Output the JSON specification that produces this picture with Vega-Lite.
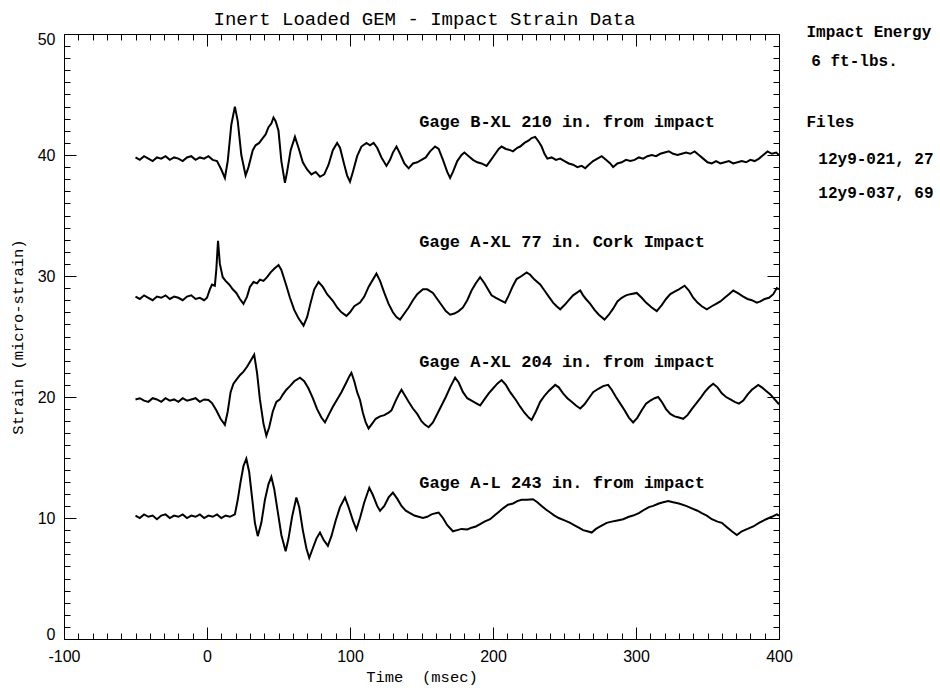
{
"$schema": "https://vega.github.io/schema/vega-lite/v6.json",
"width": 715, "height": 605,
"autosize": {"type": "none"},
"padding": {"left": 64, "top": 34, "right": 161, "bottom": 49},
"background": "white",
"config": {
  "view": {"stroke": "black", "strokeWidth": 1},
  "axis": {"domain": false, "grid": false, "tickColor": "black", "tickWidth": 1, "labelColor": "black", "titleColor": "black", "labelFont": "Liberation Sans", "labelFontSize": 16, "titleFont": "Liberation Mono", "titleFontSize": 15.5, "titleFontWeight": "normal"}
},
"title": {"text": "Inert Loaded GEM - Impact Strain Data", "font": "Liberation Mono", "fontSize": 19, "fontWeight": "normal", "anchor": "middle", "offset": -5, "color": "black", "dx": 3},
"datasets": {
"traces": [
{"s":"B","t":-50,"v":39.8},{"s":"B","t":-47,"v":39.6},{"s":"B","t":-44,"v":39.9},{"s":"B","t":-41,"v":39.7},{"s":"B","t":-38,"v":39.5},{"s":"B","t":-35,"v":39.8},{"s":"B","t":-32,"v":39.7},{"s":"B","t":-29,"v":39.9},{"s":"B","t":-26,"v":39.6},{"s":"B","t":-23,"v":39.8},{"s":"B","t":-20,"v":39.7},{"s":"B","t":-17,"v":39.5},{"s":"B","t":-14,"v":39.8},{"s":"B","t":-11,"v":39.9},{"s":"B","t":-8,"v":39.6},{"s":"B","t":-5,"v":39.8},{"s":"B","t":-2,"v":39.7},{"s":"B","t":1,"v":39.9},{"s":"B","t":4,"v":39.6},{"s":"B","t":7,"v":39.5},{"s":"B","t":10,"v":38.8},{"s":"B","t":12.5,"v":38.1},{"s":"B","t":14.5,"v":39.5},{"s":"B","t":17,"v":42.5},{"s":"B","t":19.5,"v":44.0},{"s":"B","t":21.5,"v":42.8},{"s":"B","t":24,"v":40.0},{"s":"B","t":27,"v":38.3},{"s":"B","t":29,"v":39.0},{"s":"B","t":32,"v":40.4},{"s":"B","t":34,"v":40.8},{"s":"B","t":36.5,"v":41.0},{"s":"B","t":39,"v":41.4},{"s":"B","t":41,"v":41.7},{"s":"B","t":43,"v":42.3},{"s":"B","t":45,"v":42.6},{"s":"B","t":46.5,"v":43.1},{"s":"B","t":48,"v":42.8},{"s":"B","t":50,"v":42.0},{"s":"B","t":52,"v":39.5},{"s":"B","t":54.5,"v":37.7},{"s":"B","t":56,"v":38.6},{"s":"B","t":58.5,"v":40.4},{"s":"B","t":61.5,"v":41.5},{"s":"B","t":64,"v":40.6},{"s":"B","t":67,"v":39.4},{"s":"B","t":70,"v":38.8},{"s":"B","t":73,"v":38.4},{"s":"B","t":76,"v":38.6},{"s":"B","t":79,"v":38.2},{"s":"B","t":82,"v":38.4},{"s":"B","t":85,"v":39.2},{"s":"B","t":88,"v":40.4},{"s":"B","t":91,"v":41.0},{"s":"B","t":93,"v":40.6},{"s":"B","t":96,"v":39.2},{"s":"B","t":98,"v":38.3},{"s":"B","t":100,"v":37.8},{"s":"B","t":102,"v":38.6},{"s":"B","t":105,"v":39.9},{"s":"B","t":108,"v":40.7},{"s":"B","t":111.5,"v":41.0},{"s":"B","t":114,"v":40.8},{"s":"B","t":116.5,"v":41.0},{"s":"B","t":119,"v":40.6},{"s":"B","t":122,"v":39.8},{"s":"B","t":125.5,"v":39.1},{"s":"B","t":128,"v":39.6},{"s":"B","t":130,"v":40.2},{"s":"B","t":132.5,"v":40.7},{"s":"B","t":135,"v":40.1},{"s":"B","t":138,"v":39.3},{"s":"B","t":141,"v":38.9},{"s":"B","t":144,"v":39.3},{"s":"B","t":147,"v":39.4},{"s":"B","t":150,"v":39.6},{"s":"B","t":153,"v":39.8},{"s":"B","t":156,"v":40.3},{"s":"B","t":159.5,"v":40.7},{"s":"B","t":162,"v":40.5},{"s":"B","t":165,"v":39.6},{"s":"B","t":168,"v":38.6},{"s":"B","t":170,"v":38.1},{"s":"B","t":172,"v":38.6},{"s":"B","t":175,"v":39.5},{"s":"B","t":178,"v":40.0},{"s":"B","t":180,"v":40.2},{"s":"B","t":183,"v":39.9},{"s":"B","t":186,"v":39.6},{"s":"B","t":189,"v":39.4},{"s":"B","t":192,"v":39.3},{"s":"B","t":195.5,"v":39.1},{"s":"B","t":198,"v":39.5},{"s":"B","t":201,"v":40.0},{"s":"B","t":204,"v":40.5},{"s":"B","t":206,"v":40.7},{"s":"B","t":209,"v":40.5},{"s":"B","t":212,"v":40.4},{"s":"B","t":214,"v":40.3},{"s":"B","t":217,"v":40.6},{"s":"B","t":219,"v":40.7},{"s":"B","t":222,"v":41.0},{"s":"B","t":225,"v":41.2},{"s":"B","t":227,"v":41.4},{"s":"B","t":229.5,"v":41.5},{"s":"B","t":232,"v":41.1},{"s":"B","t":234,"v":40.7},{"s":"B","t":236,"v":40.1},{"s":"B","t":238,"v":39.7},{"s":"B","t":241,"v":39.8},{"s":"B","t":244,"v":39.6},{"s":"B","t":247,"v":39.7},{"s":"B","t":250,"v":39.5},{"s":"B","t":253,"v":39.3},{"s":"B","t":256,"v":39.2},{"s":"B","t":259,"v":39.0},{"s":"B","t":262,"v":39.1},{"s":"B","t":264.5,"v":38.9},{"s":"B","t":267,"v":39.2},{"s":"B","t":270,"v":39.5},{"s":"B","t":273,"v":39.7},{"s":"B","t":276,"v":39.9},{"s":"B","t":279,"v":39.6},{"s":"B","t":282,"v":39.3},{"s":"B","t":284,"v":39.0},{"s":"B","t":287,"v":39.3},{"s":"B","t":290,"v":39.4},{"s":"B","t":293,"v":39.6},{"s":"B","t":296,"v":39.5},{"s":"B","t":299,"v":39.6},{"s":"B","t":302,"v":39.8},{"s":"B","t":305,"v":39.7},{"s":"B","t":308,"v":39.9},{"s":"B","t":311,"v":40.0},{"s":"B","t":314,"v":39.9},{"s":"B","t":317,"v":40.1},{"s":"B","t":320,"v":40.2},{"s":"B","t":323,"v":40.3},{"s":"B","t":326,"v":40.1},{"s":"B","t":329,"v":40.0},{"s":"B","t":332,"v":40.1},{"s":"B","t":335,"v":40.2},{"s":"B","t":338,"v":40.1},{"s":"B","t":341,"v":40.3},{"s":"B","t":344,"v":40.0},{"s":"B","t":347,"v":39.7},{"s":"B","t":350,"v":39.4},{"s":"B","t":353,"v":39.3},{"s":"B","t":356,"v":39.5},{"s":"B","t":359,"v":39.3},{"s":"B","t":362,"v":39.4},{"s":"B","t":365,"v":39.5},{"s":"B","t":368,"v":39.3},{"s":"B","t":371,"v":39.4},{"s":"B","t":374,"v":39.5},{"s":"B","t":377,"v":39.4},{"s":"B","t":380,"v":39.6},{"s":"B","t":383,"v":39.5},{"s":"B","t":386,"v":39.7},{"s":"B","t":389,"v":40.0},{"s":"B","t":392,"v":40.3},{"s":"B","t":395,"v":40.1},{"s":"B","t":398,"v":40.2},{"s":"B","t":400,"v":40.0},
{"s":"C","t":-50,"v":28.3},{"s":"C","t":-47,"v":28.1},{"s":"C","t":-44,"v":28.4},{"s":"C","t":-41,"v":28.2},{"s":"C","t":-38,"v":28.0},{"s":"C","t":-35,"v":28.3},{"s":"C","t":-32,"v":28.2},{"s":"C","t":-29,"v":28.4},{"s":"C","t":-26,"v":28.1},{"s":"C","t":-23,"v":28.3},{"s":"C","t":-20,"v":28.2},{"s":"C","t":-17,"v":28.0},{"s":"C","t":-14,"v":28.3},{"s":"C","t":-11,"v":28.4},{"s":"C","t":-8,"v":28.1},{"s":"C","t":-5,"v":28.2},{"s":"C","t":-2,"v":28.0},{"s":"C","t":0,"v":28.2},{"s":"C","t":2,"v":28.9},{"s":"C","t":3.5,"v":29.3},{"s":"C","t":5.5,"v":29.2},{"s":"C","t":6.5,"v":30.5},{"s":"C","t":7.7,"v":32.9},{"s":"C","t":9,"v":31.0},{"s":"C","t":11,"v":29.9},{"s":"C","t":13,"v":29.6},{"s":"C","t":15.5,"v":29.3},{"s":"C","t":18,"v":28.9},{"s":"C","t":20.5,"v":28.6},{"s":"C","t":23,"v":28.1},{"s":"C","t":25.5,"v":27.7},{"s":"C","t":28,"v":28.3},{"s":"C","t":30,"v":29.1},{"s":"C","t":32.5,"v":29.5},{"s":"C","t":35,"v":29.4},{"s":"C","t":37,"v":29.7},{"s":"C","t":39.5,"v":29.6},{"s":"C","t":42,"v":29.9},{"s":"C","t":44.5,"v":30.3},{"s":"C","t":47,"v":30.6},{"s":"C","t":50,"v":30.9},{"s":"C","t":52,"v":30.5},{"s":"C","t":55.5,"v":29.2},{"s":"C","t":58,"v":28.2},{"s":"C","t":61,"v":27.2},{"s":"C","t":64,"v":26.5},{"s":"C","t":67.5,"v":25.9},{"s":"C","t":70,"v":26.6},{"s":"C","t":72.5,"v":27.8},{"s":"C","t":75,"v":28.9},{"s":"C","t":78,"v":29.5},{"s":"C","t":81,"v":29.1},{"s":"C","t":84,"v":28.5},{"s":"C","t":88,"v":27.95},{"s":"C","t":91,"v":27.4},{"s":"C","t":94,"v":27.0},{"s":"C","t":97.5,"v":26.7},{"s":"C","t":100,"v":27.0},{"s":"C","t":103,"v":27.5},{"s":"C","t":107,"v":27.8},{"s":"C","t":110,"v":28.3},{"s":"C","t":113,"v":29.1},{"s":"C","t":116,"v":29.7},{"s":"C","t":118.5,"v":30.2},{"s":"C","t":121,"v":29.6},{"s":"C","t":124,"v":28.6},{"s":"C","t":127,"v":27.7},{"s":"C","t":130,"v":27.0},{"s":"C","t":132.5,"v":26.6},{"s":"C","t":135,"v":26.4},{"s":"C","t":138,"v":26.9},{"s":"C","t":141,"v":27.4},{"s":"C","t":144,"v":28.0},{"s":"C","t":147,"v":28.5},{"s":"C","t":151,"v":28.9},{"s":"C","t":154,"v":28.9},{"s":"C","t":158,"v":28.6},{"s":"C","t":161,"v":28.1},{"s":"C","t":164,"v":27.6},{"s":"C","t":167,"v":27.1},{"s":"C","t":170,"v":26.8},{"s":"C","t":173,"v":26.9},{"s":"C","t":176,"v":27.1},{"s":"C","t":179,"v":27.4},{"s":"C","t":182,"v":28.0},{"s":"C","t":185,"v":28.8},{"s":"C","t":188,"v":29.4},{"s":"C","t":191,"v":29.9},{"s":"C","t":194,"v":29.4},{"s":"C","t":197,"v":28.8},{"s":"C","t":199,"v":28.4},{"s":"C","t":202,"v":28.2},{"s":"C","t":205,"v":28.0},{"s":"C","t":208.5,"v":27.8},{"s":"C","t":211,"v":28.4},{"s":"C","t":214,"v":29.2},{"s":"C","t":216.5,"v":29.75},{"s":"C","t":220,"v":30.0},{"s":"C","t":223.5,"v":30.3},{"s":"C","t":226,"v":30.1},{"s":"C","t":229,"v":29.7},{"s":"C","t":233,"v":29.3},{"s":"C","t":236,"v":28.8},{"s":"C","t":239,"v":28.3},{"s":"C","t":242,"v":27.8},{"s":"C","t":244.5,"v":27.5},{"s":"C","t":247,"v":27.25},{"s":"C","t":250,"v":27.6},{"s":"C","t":253,"v":28.0},{"s":"C","t":256,"v":28.4},{"s":"C","t":258.5,"v":28.6},{"s":"C","t":261,"v":28.8},{"s":"C","t":263,"v":28.4},{"s":"C","t":265,"v":28.1},{"s":"C","t":268,"v":27.7},{"s":"C","t":271,"v":27.2},{"s":"C","t":274,"v":26.8},{"s":"C","t":278,"v":26.4},{"s":"C","t":281,"v":26.8},{"s":"C","t":284,"v":27.3},{"s":"C","t":287,"v":27.9},{"s":"C","t":290,"v":28.2},{"s":"C","t":293,"v":28.4},{"s":"C","t":296,"v":28.5},{"s":"C","t":300.5,"v":28.6},{"s":"C","t":304,"v":28.2},{"s":"C","t":307,"v":27.8},{"s":"C","t":311,"v":27.4},{"s":"C","t":314.5,"v":27.1},{"s":"C","t":318,"v":27.6},{"s":"C","t":321,"v":28.1},{"s":"C","t":324,"v":28.5},{"s":"C","t":327,"v":28.7},{"s":"C","t":330,"v":28.9},{"s":"C","t":334,"v":29.2},{"s":"C","t":337,"v":28.8},{"s":"C","t":340,"v":28.2},{"s":"C","t":343,"v":27.8},{"s":"C","t":346,"v":27.5},{"s":"C","t":349.5,"v":27.25},{"s":"C","t":353,"v":27.5},{"s":"C","t":356,"v":27.7},{"s":"C","t":359,"v":27.9},{"s":"C","t":362,"v":28.2},{"s":"C","t":365,"v":28.5},{"s":"C","t":368,"v":28.8},{"s":"C","t":371,"v":28.6},{"s":"C","t":375,"v":28.3},{"s":"C","t":378,"v":28.1},{"s":"C","t":381,"v":28.0},{"s":"C","t":384.5,"v":27.8},{"s":"C","t":387,"v":27.9},{"s":"C","t":390,"v":28.1},{"s":"C","t":393,"v":28.2},{"s":"C","t":396,"v":28.5},{"s":"C","t":398.5,"v":29.0},{"s":"C","t":400,"v":28.9},
{"s":"X","t":-50,"v":19.8},{"s":"X","t":-47,"v":19.9},{"s":"X","t":-44,"v":19.7},{"s":"X","t":-41,"v":19.6},{"s":"X","t":-38,"v":19.9},{"s":"X","t":-35,"v":19.8},{"s":"X","t":-32,"v":19.6},{"s":"X","t":-29,"v":19.9},{"s":"X","t":-26,"v":19.7},{"s":"X","t":-23,"v":19.8},{"s":"X","t":-20,"v":19.6},{"s":"X","t":-17,"v":19.9},{"s":"X","t":-14,"v":19.7},{"s":"X","t":-11,"v":19.8},{"s":"X","t":-8,"v":19.9},{"s":"X","t":-5,"v":19.6},{"s":"X","t":-2,"v":19.8},{"s":"X","t":1,"v":19.75},{"s":"X","t":3.5,"v":19.5},{"s":"X","t":6.5,"v":18.9},{"s":"X","t":9.5,"v":18.2},{"s":"X","t":12.5,"v":17.7},{"s":"X","t":14.5,"v":18.8},{"s":"X","t":16.5,"v":20.4},{"s":"X","t":18.5,"v":21.1},{"s":"X","t":21,"v":21.5},{"s":"X","t":23,"v":21.8},{"s":"X","t":25.5,"v":22.1},{"s":"X","t":28,"v":22.5},{"s":"X","t":30.5,"v":23.0},{"s":"X","t":33,"v":23.5},{"s":"X","t":35,"v":22.0},{"s":"X","t":37,"v":19.8},{"s":"X","t":39.5,"v":17.8},{"s":"X","t":41.5,"v":16.8},{"s":"X","t":43.5,"v":17.5},{"s":"X","t":46,"v":18.8},{"s":"X","t":48.5,"v":19.6},{"s":"X","t":51,"v":19.8},{"s":"X","t":53,"v":20.2},{"s":"X","t":55.5,"v":20.6},{"s":"X","t":58,"v":20.9},{"s":"X","t":61,"v":21.3},{"s":"X","t":65,"v":21.6},{"s":"X","t":68,"v":21.3},{"s":"X","t":71,"v":20.7},{"s":"X","t":74,"v":19.9},{"s":"X","t":77,"v":19.0},{"s":"X","t":80,"v":18.3},{"s":"X","t":82.5,"v":17.9},{"s":"X","t":85,"v":18.5},{"s":"X","t":88,"v":19.2},{"s":"X","t":91,"v":19.8},{"s":"X","t":94,"v":20.4},{"s":"X","t":97,"v":21.1},{"s":"X","t":99.5,"v":21.7},{"s":"X","t":101,"v":22.0},{"s":"X","t":103,"v":21.3},{"s":"X","t":105,"v":20.4},{"s":"X","t":107,"v":19.75},{"s":"X","t":109,"v":18.7},{"s":"X","t":111,"v":17.9},{"s":"X","t":113,"v":17.4},{"s":"X","t":115.5,"v":17.8},{"s":"X","t":118,"v":18.2},{"s":"X","t":121,"v":18.4},{"s":"X","t":124,"v":18.5},{"s":"X","t":127,"v":18.7},{"s":"X","t":129,"v":18.9},{"s":"X","t":132,"v":19.7},{"s":"X","t":134.5,"v":20.3},{"s":"X","t":136,"v":20.6},{"s":"X","t":138.5,"v":20.1},{"s":"X","t":141,"v":19.6},{"s":"X","t":144,"v":19.05},{"s":"X","t":147,"v":18.6},{"s":"X","t":150,"v":18.0},{"s":"X","t":152.5,"v":17.7},{"s":"X","t":155,"v":17.5},{"s":"X","t":158,"v":17.9},{"s":"X","t":161,"v":18.6},{"s":"X","t":164,"v":19.3},{"s":"X","t":167,"v":20.0},{"s":"X","t":170,"v":20.8},{"s":"X","t":173.5,"v":21.6},{"s":"X","t":176,"v":21.2},{"s":"X","t":179,"v":20.4},{"s":"X","t":182,"v":19.9},{"s":"X","t":185,"v":19.7},{"s":"X","t":188,"v":19.5},{"s":"X","t":191,"v":19.3},{"s":"X","t":194,"v":19.8},{"s":"X","t":197,"v":20.3},{"s":"X","t":200,"v":20.7},{"s":"X","t":203,"v":21.1},{"s":"X","t":206,"v":21.4},{"s":"X","t":209,"v":21.0},{"s":"X","t":212,"v":20.4},{"s":"X","t":216,"v":19.75},{"s":"X","t":219,"v":19.2},{"s":"X","t":222,"v":18.7},{"s":"X","t":225,"v":18.3},{"s":"X","t":227,"v":18.1},{"s":"X","t":230,"v":18.8},{"s":"X","t":233,"v":19.6},{"s":"X","t":236,"v":20.1},{"s":"X","t":239,"v":20.5},{"s":"X","t":243.5,"v":21.0},{"s":"X","t":246,"v":20.8},{"s":"X","t":249,"v":20.3},{"s":"X","t":252,"v":19.9},{"s":"X","t":255,"v":19.6},{"s":"X","t":258,"v":19.3},{"s":"X","t":261,"v":19.05},{"s":"X","t":264,"v":19.4},{"s":"X","t":267,"v":19.9},{"s":"X","t":270,"v":20.4},{"s":"X","t":274,"v":20.7},{"s":"X","t":277,"v":20.9},{"s":"X","t":280.5,"v":21.0},{"s":"X","t":283,"v":20.6},{"s":"X","t":286,"v":20.0},{"s":"X","t":289,"v":19.45},{"s":"X","t":292,"v":18.9},{"s":"X","t":295,"v":18.3},{"s":"X","t":298,"v":17.9},{"s":"X","t":301,"v":18.3},{"s":"X","t":304,"v":18.9},{"s":"X","t":307,"v":19.45},{"s":"X","t":310,"v":19.7},{"s":"X","t":313,"v":19.9},{"s":"X","t":315.5,"v":20.0},{"s":"X","t":318,"v":19.6},{"s":"X","t":321,"v":19.0},{"s":"X","t":324,"v":18.6},{"s":"X","t":327,"v":18.4},{"s":"X","t":330,"v":18.3},{"s":"X","t":333,"v":18.2},{"s":"X","t":336,"v":18.5},{"s":"X","t":339,"v":19.0},{"s":"X","t":342,"v":19.45},{"s":"X","t":345,"v":19.9},{"s":"X","t":348,"v":20.4},{"s":"X","t":351,"v":20.8},{"s":"X","t":354,"v":21.1},{"s":"X","t":357,"v":20.8},{"s":"X","t":360,"v":20.3},{"s":"X","t":363,"v":20.0},{"s":"X","t":366,"v":19.8},{"s":"X","t":369,"v":19.6},{"s":"X","t":372,"v":19.45},{"s":"X","t":375,"v":19.7},{"s":"X","t":378,"v":20.2},{"s":"X","t":381,"v":20.6},{"s":"X","t":385.5,"v":21.0},{"s":"X","t":388,"v":20.8},{"s":"X","t":391,"v":20.5},{"s":"X","t":394,"v":20.2},{"s":"X","t":397,"v":19.8},{"s":"X","t":400,"v":19.4},
{"s":"L","t":-50,"v":10.2},{"s":"L","t":-47,"v":10.0},{"s":"L","t":-44,"v":10.3},{"s":"L","t":-41,"v":10.1},{"s":"L","t":-38,"v":10.2},{"s":"L","t":-35,"v":9.9},{"s":"L","t":-32,"v":10.2},{"s":"L","t":-29,"v":10.3},{"s":"L","t":-26,"v":10.0},{"s":"L","t":-23,"v":10.2},{"s":"L","t":-20,"v":10.1},{"s":"L","t":-17,"v":10.3},{"s":"L","t":-14,"v":10.0},{"s":"L","t":-11,"v":10.2},{"s":"L","t":-8,"v":10.1},{"s":"L","t":-5,"v":10.3},{"s":"L","t":-2,"v":10.0},{"s":"L","t":1,"v":10.2},{"s":"L","t":4,"v":10.1},{"s":"L","t":7,"v":10.3},{"s":"L","t":10,"v":10.0},{"s":"L","t":13,"v":10.2},{"s":"L","t":16,"v":10.1},{"s":"L","t":19.5,"v":10.3},{"s":"L","t":21.5,"v":11.5},{"s":"L","t":23.5,"v":13.0},{"s":"L","t":25.5,"v":14.3},{"s":"L","t":27.5,"v":14.9},{"s":"L","t":29.5,"v":13.8},{"s":"L","t":31.5,"v":11.7},{"s":"L","t":33.5,"v":9.6},{"s":"L","t":35.5,"v":8.5},{"s":"L","t":38,"v":9.6},{"s":"L","t":40.5,"v":11.5},{"s":"L","t":43,"v":12.8},{"s":"L","t":45,"v":13.4},{"s":"L","t":47,"v":12.4},{"s":"L","t":49.5,"v":10.5},{"s":"L","t":52,"v":8.6},{"s":"L","t":55,"v":7.25},{"s":"L","t":57,"v":8.3},{"s":"L","t":59.5,"v":10.1},{"s":"L","t":62.5,"v":11.7},{"s":"L","t":64.5,"v":10.9},{"s":"L","t":67,"v":9.0},{"s":"L","t":69.5,"v":7.5},{"s":"L","t":71.5,"v":6.7},{"s":"L","t":74,"v":7.5},{"s":"L","t":76.5,"v":8.3},{"s":"L","t":79,"v":8.8},{"s":"L","t":81.5,"v":8.2},{"s":"L","t":84.5,"v":7.7},{"s":"L","t":87,"v":8.5},{"s":"L","t":90,"v":9.8},{"s":"L","t":93,"v":10.9},{"s":"L","t":96.5,"v":11.7},{"s":"L","t":99,"v":10.9},{"s":"L","t":102,"v":9.8},{"s":"L","t":104.5,"v":9.05},{"s":"L","t":107,"v":10.0},{"s":"L","t":110,"v":11.3},{"s":"L","t":113.5,"v":12.5},{"s":"L","t":116,"v":11.9},{"s":"L","t":119,"v":11.0},{"s":"L","t":121,"v":10.6},{"s":"L","t":124,"v":11.0},{"s":"L","t":127,"v":11.7},{"s":"L","t":130,"v":12.1},{"s":"L","t":133,"v":11.6},{"s":"L","t":136,"v":11.0},{"s":"L","t":139,"v":10.6},{"s":"L","t":142,"v":10.4},{"s":"L","t":145,"v":10.2},{"s":"L","t":148,"v":10.1},{"s":"L","t":151,"v":10.0},{"s":"L","t":154,"v":10.1},{"s":"L","t":157,"v":10.3},{"s":"L","t":160,"v":10.4},{"s":"L","t":162,"v":10.45},{"s":"L","t":165,"v":10.0},{"s":"L","t":168,"v":9.4},{"s":"L","t":172,"v":8.9},{"s":"L","t":175,"v":9.0},{"s":"L","t":178,"v":9.1},{"s":"L","t":182,"v":9.05},{"s":"L","t":185,"v":9.2},{"s":"L","t":188,"v":9.3},{"s":"L","t":191,"v":9.5},{"s":"L","t":194,"v":9.7},{"s":"L","t":198,"v":9.9},{"s":"L","t":201,"v":10.2},{"s":"L","t":204,"v":10.5},{"s":"L","t":207,"v":10.8},{"s":"L","t":210.5,"v":11.1},{"s":"L","t":214,"v":11.2},{"s":"L","t":217,"v":11.4},{"s":"L","t":220,"v":11.5},{"s":"L","t":224,"v":11.5},{"s":"L","t":228,"v":11.55},{"s":"L","t":231,"v":11.3},{"s":"L","t":234,"v":11.0},{"s":"L","t":237,"v":10.7},{"s":"L","t":240,"v":10.45},{"s":"L","t":243,"v":10.2},{"s":"L","t":246,"v":10.0},{"s":"L","t":250,"v":9.8},{"s":"L","t":254,"v":9.6},{"s":"L","t":257,"v":9.4},{"s":"L","t":260,"v":9.2},{"s":"L","t":263,"v":9.0},{"s":"L","t":266,"v":8.9},{"s":"L","t":269,"v":8.8},{"s":"L","t":272,"v":9.1},{"s":"L","t":275,"v":9.3},{"s":"L","t":279.5,"v":9.6},{"s":"L","t":283,"v":9.7},{"s":"L","t":287,"v":9.8},{"s":"L","t":291,"v":9.9},{"s":"L","t":295,"v":10.1},{"s":"L","t":298,"v":10.2},{"s":"L","t":302,"v":10.4},{"s":"L","t":306,"v":10.7},{"s":"L","t":309,"v":10.9},{"s":"L","t":312,"v":11.0},{"s":"L","t":316,"v":11.2},{"s":"L","t":319,"v":11.3},{"s":"L","t":322.5,"v":11.4},{"s":"L","t":326,"v":11.3},{"s":"L","t":330,"v":11.2},{"s":"L","t":335,"v":11.0},{"s":"L","t":339,"v":10.8},{"s":"L","t":343,"v":10.6},{"s":"L","t":346,"v":10.4},{"s":"L","t":349.5,"v":10.2},{"s":"L","t":353,"v":9.9},{"s":"L","t":357,"v":9.7},{"s":"L","t":360,"v":9.6},{"s":"L","t":363,"v":9.3},{"s":"L","t":367,"v":8.9},{"s":"L","t":370.5,"v":8.6},{"s":"L","t":374,"v":8.9},{"s":"L","t":378,"v":9.1},{"s":"L","t":382,"v":9.3},{"s":"L","t":386,"v":9.6},{"s":"L","t":391,"v":9.9},{"s":"L","t":395,"v":10.1},{"s":"L","t":398.5,"v":10.3},{"s":"L","t":400,"v":10.2}
],
"labels": [
{"t":148.4,"v":42.7,"text":"Gage B-XL 210 in. from impact"},
{"t":148.4,"v":32.8,"text":"Gage A-XL 77 in. Cork Impact"},
{"t":148.4,"v":22.9,"text":"Gage A-XL 204 in. from impact"},
{"t":148.4,"v":12.9,"text":"Gage A-L 243 in. from impact"}
],
"notes": [
{"t":419.2,"v":50.2,"text":"Impact Energy"},
{"t":422.6,"v":47.8,"text":"6 ft-lbs."},
{"t":419.2,"v":42.7,"text":"Files"},
{"t":427.5,"v":39.7,"text":"12y9-021, 27"},
{"t":427.5,"v":36.9,"text":"12y9-037, 69"}
]
},
"layer": [
{
 "data": {"name": "traces"},
 "mark": {"type": "line", "color": "black", "strokeWidth": 2},
 "encoding": {
  "x": {"field": "t", "type": "quantitative", "scale": {"domain": [-100, 400], "nice": false, "zero": false},
   "axis": {"orient": "bottom", "values": [-100,-90,-80,-70,-60,-50,-40,-30,-20,-10,0,10,20,30,40,50,60,70,80,90,100,110,120,130,140,150,160,170,180,190,200,210,220,230,240,250,260,270,280,290,300,310,320,330,340,350,360,370,380,390,400],
    "labelExpr": "datum.value % 100 === 0 ? '' + datum.value : ''", "labelOverlap": false, "labelFlush": false,
    "tickSize": {"condition": {"test": "datum.value % 100 === 0", "value": -12}, "value": -6},
    "labelPadding": 21, "title": "Time \u00a0(msec)", "titlePadding": -1}},
  "y": {"field": "v", "type": "quantitative", "scale": {"domain": [0, 50], "nice": false, "zero": false},
   "axis": {"orient": "left", "values": [0,1,2,3,4,5,6,7,8,9,10,11,12,13,14,15,16,17,18,19,20,21,22,23,24,25,26,27,28,29,30,31,32,33,34,35,36,37,38,39,40,41,42,43,44,45,46,47,48,49,50],
    "labelExpr": "datum.value % 10 === 0 ? '' + datum.value : ''", "labelOverlap": false, "labelFlush": true, "labelFlushOffset": 3,
    "tickSize": {"condition": {"test": "datum.value % 10 === 0", "value": -12}, "value": -6},
    "labelPadding": 21, "title": "Strain (micro-strain)", "titlePadding": 12}},
  "detail": {"field": "s", "type": "nominal"}
 }
},
{
 "data": {"name": "labels"},
 "mark": {"type": "text", "align": "left", "baseline": "middle", "font": "Liberation Mono", "fontSize": 17, "fontWeight": "bold", "color": "black"},
 "encoding": {
  "x": {"field": "t", "type": "quantitative", "scale": {"domain": [-100, 400], "nice": false, "zero": false},
   "axis": {"orient": "top", "values": [-100,-90,-80,-70,-60,-50,-40,-30,-20,-10,0,10,20,30,40,50,60,70,80,90,100,110,120,130,140,150,160,170,180,190,200,210,220,230,240,250,260,270,280,290,300,310,320,330,340,350,360,370,380,390,400],
    "labels": false, "title": null,
    "tickSize": {"condition": {"test": "datum.value % 100 === 0", "value": -12}, "value": -6}}},
  "y": {"field": "v", "type": "quantitative", "scale": {"domain": [0, 50], "nice": false, "zero": false},
   "axis": {"orient": "right", "values": [0,1,2,3,4,5,6,7,8,9,10,11,12,13,14,15,16,17,18,19,20,21,22,23,24,25,26,27,28,29,30,31,32,33,34,35,36,37,38,39,40,41,42,43,44,45,46,47,48,49,50],
    "labels": false, "title": null,
    "tickSize": {"condition": {"test": "datum.value % 10 === 0", "value": -12}, "value": -6}}},
  "text": {"field": "text", "type": "nominal"}
 }
},
{
 "data": {"name": "notes"},
 "mark": {"type": "text", "align": "left", "baseline": "middle", "font": "Liberation Mono", "fontSize": 16, "fontWeight": "bold", "color": "black", "clip": false},
 "encoding": {
  "x": {"field": "t", "type": "quantitative", "scale": {"domain": [-100, 400], "nice": false, "zero": false}, "axis": null},
  "y": {"field": "v", "type": "quantitative", "scale": {"domain": [0, 50], "nice": false, "zero": false}, "axis": null},
  "text": {"field": "text", "type": "nominal"}
 }
}
],
"resolve": {"axis": {"x": "independent", "y": "independent"}}
}
